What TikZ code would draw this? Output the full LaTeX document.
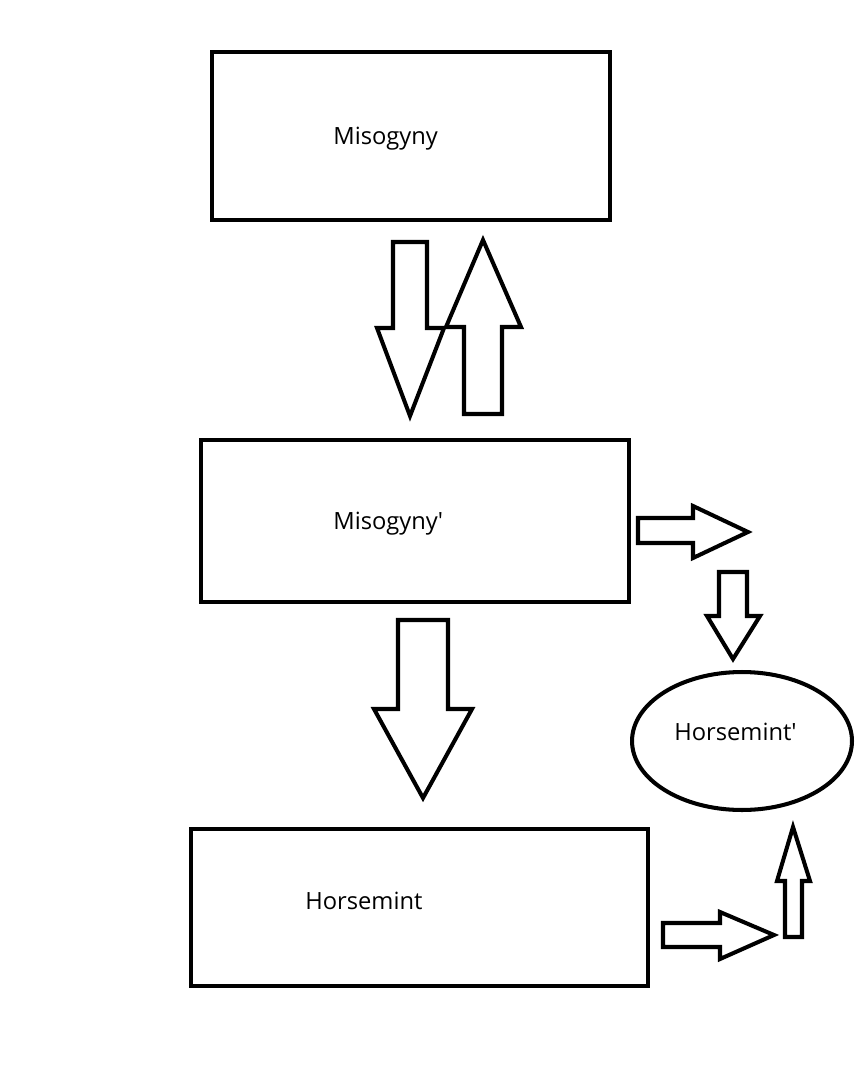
\documentclass[tikz,border=0pt]{standalone}
\usepackage{fontspec}
\setmainfont{Open Sans}
\usetikzlibrary{shapes.geometric}
\begin{document}
\begin{tikzpicture}[x=0.02cm,y=-0.02cm,
  box/.style={draw,line width=2.3pt,rectangle,inner sep=0pt},
  oval/.style={draw,line width=2.3pt,ellipse,inner sep=0pt},
  lbl/.style={anchor=base west,inner sep=0pt,font=\fontsize{13.5}{16}\selectfont},
  blockarrow/.style={draw,line width=2.3pt,line join=miter}]
\useasboundingbox (0,0) rectangle (866,1074);
% boxes
\node[box,minimum width=7.96cm,minimum height=3.36cm] (b1) at (411,136) {};
\node[box,minimum width=8.56cm,minimum height=3.24cm] (b2) at (415,521) {};
\node[box,minimum width=9.14cm,minimum height=3.14cm] (b3) at (419.5,907.5) {};
\node[oval,minimum width=4.4cm,minimum height=2.76cm] (e1) at (742,741) {};
% labels
\node[lbl] (t1) at (333,145) {Misogyny};
\node[lbl] (t2) at (333,529) {Misogyny\textquotesingle};
\node[lbl] (t3) at (305,909) {Horsemint};
\node[lbl] (t4) at (674,740) {Horsemint\textquotesingle};
% block arrows
\draw[blockarrow] (393,242) -- (427,242) -- (427,328) -- (444,328) -- (410,416) -- (377,328) -- (393,328) -- cycle;
\draw[blockarrow] (483,240) -- (521,327) -- (502,327) -- (502,414) -- (464,414) -- (464,327) -- (446,327) -- cycle;
\draw[blockarrow] (638,518) -- (693,518) -- (693,506) -- (748,532) -- (693,558) -- (693,543) -- (638,543) -- cycle;
\draw[blockarrow] (719,572) -- (747,572) -- (747,616) -- (760,616) -- (733,659) -- (707,616) -- (719,616) -- cycle;
\draw[blockarrow] (398,620) -- (448,620) -- (448,709) -- (472,709) -- (423,798) -- (374,709) -- (398,709) -- cycle;
\draw[blockarrow] (663,923) -- (720,923) -- (720,912) -- (774,935) -- (720,959) -- (720,947) -- (663,947) -- cycle;
\draw[blockarrow] (793,827) -- (810,881) -- (802,881) -- (802,937) -- (785,937) -- (785,881) -- (777,881) -- cycle;
\end{tikzpicture}
\end{document}
